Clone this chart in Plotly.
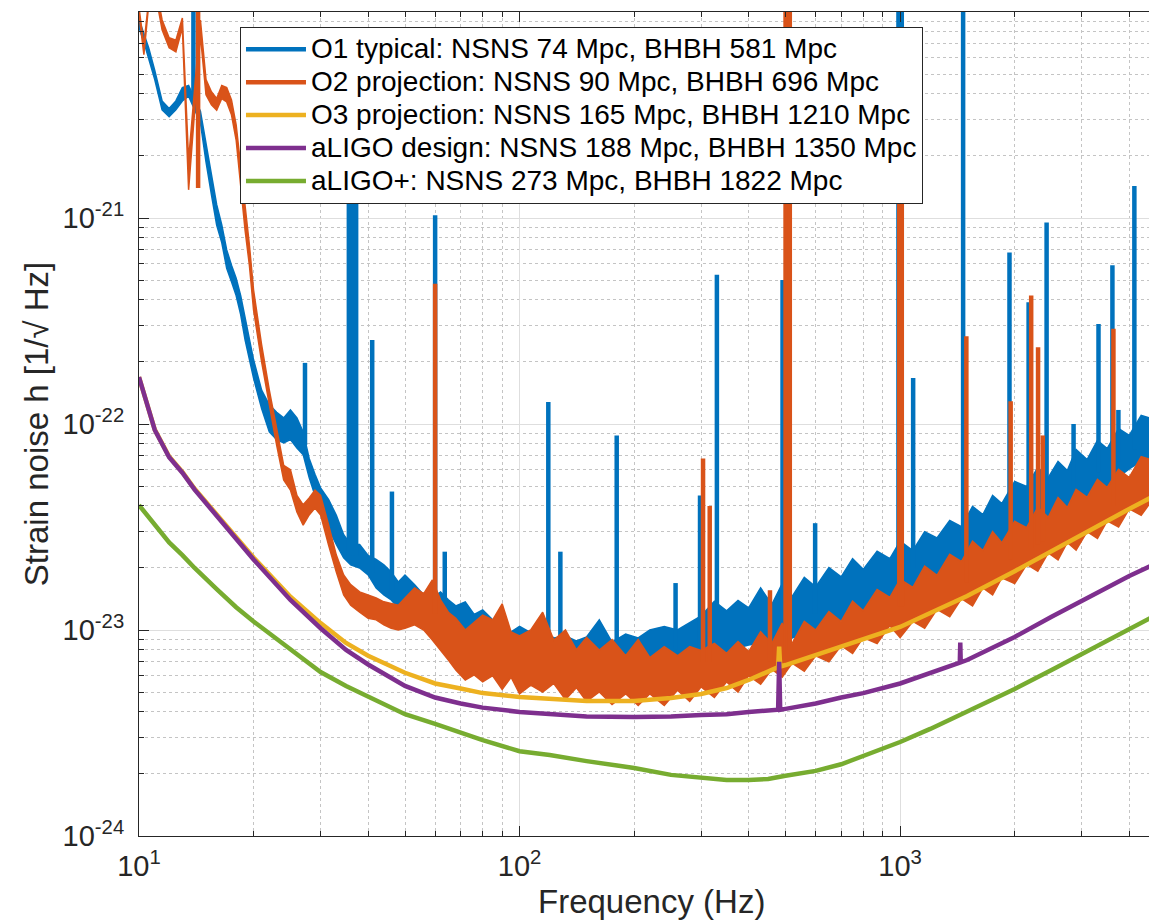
import plotly.graph_objects as go

# ---------------- data ----------------
# measured O1 / O2 noise bands (upper and lower edge of the noisy trace)
band_freq = [10, 10.3, 10.6, 11, 11.5, 12, 12.5, 13, 13.5, 14.5,
             15, 15.5, 16, 16.5, 17, 17.5, 18, 18.5, 19, 19.5,
             20, 21, 22, 23, 24, 25, 26, 27, 28, 29,
             30, 31.5, 33, 34.5, 36, 38, 40, 42, 44, 46,
             48, 50, 53, 56, 59, 62, 65, 68, 72, 76,
             80, 85, 90, 95, 100, 107, 115, 123, 132, 141,
             150, 162, 175, 190, 205, 220, 240, 260, 280, 300,
             325, 350, 375, 400, 430, 460, 490, 520, 560, 600,
             650, 700, 750, 800, 870, 940, 1000, 1080, 1160, 1250,
             1350, 1450, 1550, 1650, 1750, 1850, 2000, 2150, 2300, 2450,
             2600, 2750, 2900, 3100, 3300, 3500, 3750, 4000, 4300, 4700]

o1_upper = [9.2e-21, 7.9e-21, 6.7e-21, 5.2e-21, 3.7e-21, 3.4e-21, 3.7e-21, 4.3e-21, 4.4e-21, 3.3e-21,
            2.3e-21, 1.6e-21, 1.16e-21, 9.25e-22, 7.0e-22, 5.9e-22, 5.1e-22, 4.2e-22, 3.3e-22, 2.56e-22,
            2.05e-22, 1.46e-22, 1.24e-22, 1.14e-22, 1.07e-22, 1.17e-22, 1.07e-22, 9.15e-23, 6.8e-23, 5.7e-23,
            4.9e-23, 4.3e-23, 3.6e-23, 2.9e-23, 2.6e-23, 2.6e-23, 2.3e-23, 2.2e-23, 2.07e-23, 1.91e-23,
            1.71e-23, 1.85e-23, 1.66e-23, 1.48e-23, 1.43e-23, 1.53e-23, 1.4e-23, 1.31e-23, 1.37e-23, 1.19e-23,
            1.25e-23, 1.12e-23, 1.07e-23, 9.8e-24, 1.04e-23, 9.7e-24, 1.0e-23, 9.15e-24, 9.35e-24, 8.85e-24,
            9.25e-24, 1.12e-23, 8.74e-24, 9.56e-24, 9.15e-24, 1.0e-23, 1.04e-23, 1.0e-23, 1.09e-23, 1.17e-23,
            1.38e-23, 1.24e-23, 1.39e-23, 1.28e-23, 1.6e-23, 1.33e-23, 1.68e-23, 1.45e-23, 1.8e-23, 1.62e-23,
            2.01e-23, 1.81e-23, 2.22e-23, 1.97e-23, 2.41e-23, 2.22e-23, 2.7e-23, 2.43e-23, 3.0e-23, 2.8e-23,
            3.4e-23, 3.17e-23, 3.98e-23, 3.63e-23, 4.5e-23, 4.11e-23, 5.26e-23, 4.97e-23, 6.15e-23, 5.49e-23,
            6.58e-23, 5.94e-23, 7.52e-23, 6.72e-23, 8.32e-23, 7.6e-23, 9.5e-23, 8.8e-23, 1.1e-22, 1.05e-22]

o1_lower = [8.4e-21, 7.15e-21, 6.05e-21, 4.7e-21, 3.35e-21, 3.1e-21, 3.35e-21, 3.7e-21, 3.9e-21, 2.9e-21,
            1.87e-21, 1.3e-21, 9.25e-22, 7.6e-22, 5.7e-22, 4.9e-22, 4.2e-22, 3.4e-22, 2.56e-22, 2.1e-22,
            1.67e-22, 1.19e-22, 9.15e-23, 8.4e-23, 8.1e-23, 8.4e-23, 7.65e-23, 7.1e-23, 5.5e-23, 4.5e-23,
            3.9e-23, 3.1e-23, 2.6e-23, 2.24e-23, 2.07e-23, 2.0e-23, 1.85e-23, 1.6e-23, 1.48e-23, 1.4e-23,
            1.28e-23, 1.31e-23, 1.18e-23, 1.09e-23, 1.06e-23, 1.02e-23, 9.8e-24, 9.35e-24, 8.94e-24, 8.55e-24,
            8.2e-24, 8.0e-24, 7.8e-24, 7.3e-24, 7.15e-24, 7.0e-24, 6.76e-24, 6.54e-24, 6.54e-24, 6.4e-24,
            6.25e-24, 6.4e-24, 6.25e-24, 6.4e-24, 6.4e-24, 6.54e-24, 6.69e-24, 6.84e-24, 7.15e-24, 7.5e-24,
            7.7e-24, 7.8e-24, 8.2e-24, 8.46e-24, 8.65e-24, 8.74e-24, 8.94e-24, 9.15e-24, 9.56e-24, 1.0e-23,
            1.07e-23, 1.12e-23, 1.19e-23, 1.25e-23, 1.32e-23, 1.4e-23, 1.48e-23, 1.55e-23, 1.64e-23, 1.75e-23,
            1.96e-23, 2.09e-23, 2.21e-23, 2.31e-23, 2.42e-23, 2.53e-23, 2.82e-23, 3.09e-23, 3.3e-23, 3.46e-23,
            3.62e-23, 3.78e-23, 4.05e-23, 4.33e-23, 4.58e-23, 4.94e-23, 5.53e-23, 6.05e-23, 6.6e-23, 7.07e-23]

o2_upper = [1.05e-20, 6.9e-21, 1.14e-20, 1.43e-20, 9.15e-21, 7.5e-21, 7.3e-21, 9.35e-21, 1.91e-21, 9.15e-21,
            4.7e-21, 4.1e-21, 3.8e-21, 4.4e-21, 4.3e-21, 3.74e-21, 2.83e-21, 1.81e-21, 1.09e-21, 7.4e-22,
            4.47e-22, 2.42e-22, 1.46e-22, 9.56e-23, 6.3e-23, 6.0e-23, 4.5e-23, 4.05e-23, 4.37e-23, 4.78e-23,
            4.5e-23, 3.23e-23, 2.31e-23, 1.85e-23, 1.66e-23, 1.53e-23, 1.48e-23, 1.43e-23, 1.37e-23, 1.34e-23,
            1.32e-23, 1.43e-23, 1.6e-23, 1.5e-23, 1.75e-23, 1.4e-23, 1.22e-23, 1.14e-23, 1.0e-23, 1.09e-23,
            1.18e-23, 1.12e-23, 1.34e-23, 9.78e-24, 9.35e-24, 1.0e-23, 1.22e-23, 8.94e-24, 1.0e-23, 8.0e-24,
            9.2e-24, 8.0e-24, 9.0e-24, 7.5e-24, 9.0e-24, 7.35e-24, 8.3e-24, 7.5e-24, 8.3e-24, 7.95e-24,
            8.6e-24, 7.7e-24, 8.8e-24, 7.85e-24, 9.8e-24, 8.6e-24, 1.08e-23, 8.6e-24, 1.1e-23, 1.0e-23,
            1.23e-23, 1.1e-23, 1.38e-23, 1.24e-23, 1.57e-23, 1.44e-23, 1.76e-23, 1.61e-23, 2.04e-23, 1.84e-23,
            2.33e-23, 2.15e-23, 2.7e-23, 2.43e-23, 3.0e-23, 2.65e-23, 3.37e-23, 3.14e-23, 3.94e-23, 3.52e-23,
            4.4e-23, 3.93e-23, 4.81e-23, 4.4e-23, 5.38e-23, 4.92e-23, 6.02e-23, 5.5e-23, 6.95e-23, 6.6e-23]

o2_lower = [9.8e-21, 6.2e-21, 1.08e-20, 1.28e-20, 8.2e-21, 6.7e-21, 6.4e-21, 8.4e-21, 1.37e-21, 7.7e-21,
            3.96e-21, 3.54e-21, 3.34e-21, 3.8e-21, 3.66e-21, 3.17e-21, 2.39e-21, 1.45e-21, 8.74e-22, 5.9e-22,
            3.58e-22, 2.0e-22, 1.24e-22, 7.9e-23, 5.35e-23, 4.78e-23, 3.74e-23, 3.23e-23, 3.62e-23, 3.91e-23,
            3.62e-23, 2.58e-23, 1.91e-23, 1.48e-23, 1.32e-23, 1.22e-23, 1.14e-23, 1.12e-23, 1.06e-23, 1.02e-23,
            1.0e-23, 1.02e-23, 1.06e-23, 1.0e-23, 8.94e-24, 8.0e-24, 7.15e-24, 6.4e-24, 5.72e-24, 6.05e-24,
            5.6e-24, 6.0e-24, 5.15e-24, 5.9e-24, 4.9e-24, 5.4e-24, 5.0e-24, 5.5e-24, 4.6e-24, 5.25e-24,
            4.5e-24, 5.0e-24, 4.35e-24, 4.9e-24, 4.3e-24, 4.9e-24, 4.3e-24, 5.1e-24, 4.5e-24, 5.3e-24,
            4.7e-24, 5.6e-24, 5.0e-24, 6.0e-24, 5.45e-24, 6.45e-24, 5.9e-24, 6.9e-24, 6.3e-24, 7.5e-24,
            7.0e-24, 8.4e-24, 7.7e-24, 9.2e-24, 8.6e-24, 1.05e-23, 9.2e-24, 1.1e-23, 1.02e-23, 1.26e-23,
            1.16e-23, 1.42e-23, 1.31e-23, 1.6e-23, 1.48e-23, 1.79e-23, 1.68e-23, 2.08e-23, 1.93e-23, 2.37e-23,
            2.19e-23, 2.66e-23, 2.44e-23, 3.0e-23, 2.78e-23, 3.39e-23, 3.16e-23, 3.87e-23, 3.6e-23, 4.52e-23]

# narrow lines (spikes): frequency, strain at foot, strain at tip
o1_spike_freq = [13.9, 27.3, 35.6, 36.4, 37.2, 41.0, 46.2, 60.0, 63.6, 119, 128, 180, 257, 298, 330,
                 491, 598, 990, 1010, 1082, 1464, 1938, 2176, 2426, 2856, 3321, 3613, 3746, 4126]
o1_spike_base = [3.9e-21, 7.9e-23, 2.3e-23, 2.3e-23, 2.3e-23, 1.9e-23, 1.5e-23, 1.2e-23, 1.1e-23, 8e-24,
                 8e-24, 8e-24, 8e-24, 8e-24, 9e-24, 1e-23, 1.2e-23, 1.8e-23, 1.8e-23, 2e-23, 2.6e-23,
                 3.5e-23, 3.8e-23, 4.5e-23, 5e-23, 5.8e-23, 6.3e-23, 6.6e-23, 7.5e-23]
o1_spike_top = [2e-20, 1.98e-22, 3e-21, 3e-21, 3e-21, 2.56e-22, 4.7e-23, 1.03e-21, 2.4e-23, 1.28e-22,
                2.4e-23, 8.8e-23, 1.69e-23, 4.5e-23, 5.3e-22, 5.0e-22, 3.3e-23, 2e-20, 2e-20, 1.67e-22,
                2e-20, 6.8e-22, 3.9e-22, 9.5e-22, 1.0e-22, 3.06e-22, 5.9e-22, 1.17e-22, 1.43e-21]

o2_spike_freq = [14.3, 60.0, 303.5, 316, 455, 500, 506, 513, 995, 1010,
                 1493, 1952, 2210, 2304, 2371, 3635, 4670]
o2_spike_base = [1.4e-21, 1.2e-23, 7e-24, 7e-24, 7e-24, 8e-24, 8e-24, 8e-24, 1.3e-23, 1.3e-23,
                 1.7e-23, 2.2e-23, 2.5e-23, 2.6e-23, 2.7e-23, 4e-23, 5e-23]
o2_spike_top = [2e-20, 4.8e-22, 6.8e-23, 4.0e-23, 1.56e-23, 2e-20, 2e-20, 2e-20, 1.17e-21, 1.17e-21,
                2.67e-22, 1.29e-22, 4.2e-22, 2.36e-22, 8.8e-23, 2.9e-22, 1.45e-22]

# smooth projected / design curves
o3_freq = [10, 10.5, 11, 12, 13, 14, 16, 18, 20, 25, 30, 35, 40, 50, 60, 70, 80, 100, 120, 150,
           200, 250, 300, 350, 400, 450, 478, 481, 484, 500, 600, 700, 800, 1000, 1200, 1500,
           2000, 2500, 3000, 4000, 4700]
o3_strain = [1.69e-22, 1.24e-22, 9.4e-23, 6.95e-23, 5.85e-23, 4.85e-23, 3.65e-23, 2.85e-23, 2.25e-23,
             1.45e-23, 1.08e-23, 8.65e-24, 7.5e-24, 6.2e-24, 5.5e-24, 5.2e-24, 4.94e-24, 4.73e-24,
             4.63e-24, 4.52e-24, 4.52e-24, 4.68e-24, 4.89e-24, 5.23e-24, 5.72e-24, 6.25e-24,
             6.6e-24, 8.3e-24, 6.65e-24, 6.76e-24, 7.56e-24, 8.27e-24, 8.94e-24, 1.034e-23,
             1.21e-23, 1.463e-23, 1.93e-23, 2.42e-23, 2.89e-23, 3.87e-23, 4.52e-23]

design_freq = [10, 10.5, 11, 12, 13, 14, 16, 18, 20, 25, 30, 35, 40, 50, 60, 70, 80, 100, 120, 150,
               200, 250, 300, 350, 400, 450, 478, 481, 484, 500, 600, 700, 800, 1000, 1200,
               1435, 1439, 1443, 1500, 2000, 2500, 3000, 4000, 4700]
design_strain = [1.69e-22, 1.24e-22, 9.35e-23, 6.9e-23, 5.8e-23, 4.8e-23, 3.6e-23, 2.8e-23, 2.2e-23,
                 1.4e-23, 1.02e-23, 8.0e-24, 6.8e-24, 5.35e-24, 4.7e-24, 4.4e-24, 4.2e-24, 4.0e-24,
                 3.9e-24, 3.8e-24, 3.78e-24, 3.8e-24, 3.87e-24, 3.9e-24, 4.0e-24, 4.05e-24,
                 4.1e-24, 7.0e-24, 4.1e-24, 4.14e-24, 4.4e-24, 4.7e-24, 4.94e-24, 5.5e-24, 6.2e-24,
                 6.95e-24, 8.7e-24, 6.97e-24, 7.15e-24, 9.25e-24, 1.16e-23, 1.38e-23, 1.83e-23, 2.1e-23]

plus_freq = [10, 10.5, 11, 12, 13, 14, 16, 18, 20, 25, 30, 35, 40, 50, 60, 70, 80, 100, 120, 150,
             200, 250, 300, 350, 400, 450, 500, 600, 700, 800, 1000, 1200, 1500,
             2000, 2500, 3000, 4000, 4700]
plus_strain = [4.04e-23, 3.62e-23, 3.2e-23, 2.66e-23, 2.31e-23, 2.0e-23, 1.58e-23, 1.29e-23, 1.1e-23,
               8.0e-24, 6.25e-24, 5.35e-24, 4.73e-24, 3.9e-24, 3.5e-24, 3.16e-24, 2.92e-24, 2.58e-24,
               2.47e-24, 2.31e-24, 2.14e-24, 1.98e-24, 1.91e-24, 1.87e-24, 1.87e-24, 1.89e-24,
               1.96e-24, 2.07e-24, 2.23e-24, 2.44e-24, 2.86e-24, 3.31e-24, 4.0e-24,
               5.17e-24, 6.4e-24, 7.65e-24, 1.01e-23, 1.18e-23]

labels = ["O1 typical: NSNS 74 Mpc, BHBH 581 Mpc",
          "O2 projection: NSNS 90 Mpc, BHBH 696 Mpc",
          "O3 projection: NSNS 165 Mpc, BHBH 1210 Mpc",
          "aLIGO design: NSNS 188 Mpc, BHBH 1350 Mpc",
          "aLIGO+: NSNS 273 Mpc, BHBH 1822 Mpc"]

x_tick_vals = [10, 100, 1000]
x_tick_text = ["10<sup>1</sup>", "10<sup>2</sup>", "10<sup>3</sup>"]
y_tick_vals = [1e-24, 1e-23, 1e-22, 1e-21]
y_tick_text = ["10<sup>-24</sup>", "10<sup>-23</sup>", "10<sup>-22</sup>", "10<sup>-21</sup>"]

# ---------------- styling ----------------
C_BLUE, C_ORANGE, C_YELLOW, C_PURPLE, C_GREEN = "#0072BD", "#D95319", "#EDB120", "#7E2F8E", "#77AC30"
FONT = "Liberation Sans, Arial, Helvetica, sans-serif"


def legend_name(text):
    # larger glyphs than the legend's row pitch so the rows stay compact
    return '<span style="font-size:28px">' + text + '</span>'


def band(freq, upper, lower):
    return list(freq) + list(freq[::-1]), list(upper) + list(lower[::-1])


def spikes(freq, base, top):
    xs, ys = [], []
    for f, b, t in zip(freq, base, top):
        xs += [f, f, None]
        ys += [b, t, None]
    return xs, ys


fig = go.Figure()

for (up, lo, sf, sb, st, col, name) in [
        (o1_upper, o1_lower, o1_spike_freq, o1_spike_base, o1_spike_top, C_BLUE, labels[0]),
        (o2_upper, o2_lower, o2_spike_freq, o2_spike_base, o2_spike_top, C_ORANGE, labels[1])]:
    bx, by = band(band_freq, up, lo)
    fig.add_trace(go.Scatter(x=bx, y=by, mode="lines", fill="toself", fillcolor=col,
                             line=dict(color=col, width=1.5), showlegend=False, hoverinfo="skip"))
    sx, sy = spikes(sf, sb, st)
    fig.add_trace(go.Scatter(x=sx, y=sy, mode="lines", line=dict(color=col, width=4.5),
                             name=legend_name(name), connectgaps=False))

fig.add_trace(go.Scatter(x=o3_freq, y=o3_strain, mode="lines", name=legend_name(labels[2]),
                         line=dict(color=C_YELLOW, width=4.5)))
fig.add_trace(go.Scatter(x=design_freq, y=design_strain, mode="lines", name=legend_name(labels[3]),
                         line=dict(color=C_PURPLE, width=4.5)))
fig.add_trace(go.Scatter(x=plus_freq, y=plus_strain, mode="lines", name=legend_name(labels[4]),
                         line=dict(color=C_GREEN, width=4.5)))

x_minor = [m * 10 ** e for e in (1, 2, 3) for m in range(2, 10)]
y_minor = [m * 10.0 ** e for e in (-24, -23, -22, -21) for m in range(2, 10)]

axis_common = dict(showline=True, linecolor="#262626", linewidth=1, ticks="inside", ticklen=10,
                   tickwidth=1, tickcolor="#262626", showgrid=True, gridcolor="#dedede",
                   gridwidth=1, zeroline=False, tickfont=dict(size=29, color="#262626"))

fig.update_xaxes(type="log", range=[1, 3.675], mirror="ticks", tickmode="array",
                 tickvals=x_tick_vals, ticktext=x_tick_text, ticklabelstandoff=4,
                 minor=dict(tickmode="array", tickvals=x_minor, ticks="inside", ticklen=5,
                            tickcolor="#262626", showgrid=True, gridcolor="#c4c4c4",
                            griddash="3px,3px", gridwidth=1),
                 **axis_common)
fig.update_yaxes(type="log", range=[-24, -20], mirror=False, tickmode="array",
                 tickvals=y_tick_vals, ticktext=y_tick_text, ticklabelstandoff=8,
                 minor=dict(tickmode="array", tickvals=y_minor, ticks="inside", ticklen=5,
                            tickcolor="#262626", showgrid=True, gridcolor="#c4c4c4",
                            griddash="3px,3px", gridwidth=1),
                 **axis_common)

# the page body adds an 8 px offset, so the figure is sized to end at the window edge
fig.update_layout(
    width=1149, height=915,
    margin=dict(l=131, r=0, t=4, b=87),
    paper_bgcolor="white", plot_bgcolor="white",
    font=dict(family=FONT, size=28, color="#262626"),
    legend=dict(x=0.0992, y=0.982, xanchor="left", yanchor="top", bgcolor="white",
                bordercolor="#262626", borderwidth=1, itemwidth=60, tracegroupgap=0,
                font=dict(family=FONT, size=23, color="black")),
    annotations=[
        dict(text="Frequency (Hz)", xref="paper", yref="paper", x=0.503, y=-0.080,
             xanchor="center", yanchor="middle", showarrow=False,
             font=dict(family=FONT, size=33, color="#262626")),
        dict(text="Strain noise h [1/√ Hz]", xref="paper", yref="paper", x=-0.101, y=0.5,
             xanchor="center", yanchor="middle", textangle=-90, showarrow=False,
             font=dict(family=FONT, size=33, color="#262626")),
    ],
)

fig.write_html("out.html")
